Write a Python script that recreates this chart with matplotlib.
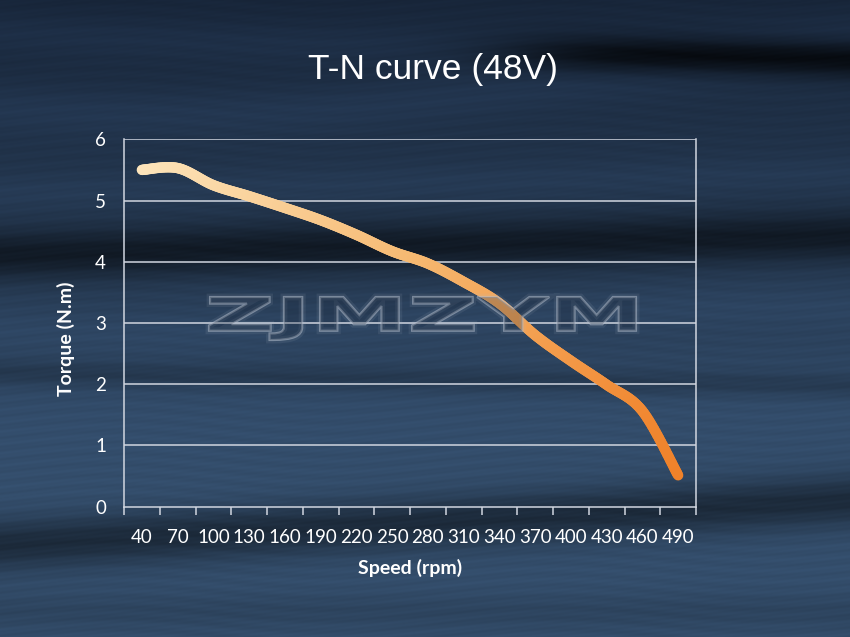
"""
T-N curve (48V) -- torque vs speed, smoothed line on a dark blue backdrop.
"""
import matplotlib
matplotlib.use("Agg")
import matplotlib.pyplot as plt
import numpy as np
from matplotlib.collections import LineCollection
from matplotlib.font_manager import FontProperties
from matplotlib.patches import PathPatch
from matplotlib.textpath import TextPath
from matplotlib.transforms import Affine2D

# ── Data ──────────────────────────────────────────────────────────────────────
speed_labels = ["40", "70", "100", "130", "160", "190", "220", "250",
                "280", "310", "340", "370", "400", "430", "460", "490"]
torque = [5.50, 5.53, 5.25, 5.07, 4.88, 4.68, 4.44, 4.17,
          3.97, 3.67, 3.32, 2.80, 2.38, 1.99, 1.56, 0.51]
y_ticks = [0, 1, 2, 3, 4, 5, 6]

title = "T-N curve (48V)"
x_label = "Speed (rpm)"
y_label = "Torque (N.m)"
watermark = "ZJMZYM"

W, H = 850, 637


# ── Helpers ───────────────────────────────────────────────────────────────────

def backdrop(w, h):
    """Dark blue wavy fabric-like background as an RGB array."""
    yy, xx = np.mgrid[0:h, 0:w]
    t = yy / h
    s = xx / w
    top = np.array([24, 38, 58]) / 255
    bot = np.array([52, 78, 108]) / 255
    base = top + (bot - top) * np.clip(t * 1.3, 0, 1)[..., None]
    shade = np.zeros((h, w))

    def band(center, width, amount):
        return amount * np.exp(-((t - center) / width) ** 2)

    # light streaks in the upper half
    shade += band(0.05 + 0.02 * np.sin(3 * s), 0.03, 0.14)
    shade += band(0.17 - 0.05 * s + 0.02 * np.sin(5 * s), 0.035, 0.16)
    shade += band(0.30 - 0.03 * s, 0.025, 0.10)
    shade += band(0.50 + 0.02 * np.sin(4 * s + 1), 0.03, 0.08)
    shade += band(0.66 - 0.02 * s, 0.07, 0.06)
    # dark folds
    right = 1 / (1 + np.exp(-(s - 0.62) / 0.05))
    shade += band(0.085 + 0.03 * (s - 0.75), 0.03, -0.9) * right
    shade += band(0.40 - 0.03 * s, 0.04, -0.55)
    shade += band(0.585 + 0.02 * s, 0.02, -0.2)
    shade += band(0.855 - 0.07 * s, 0.04, -0.45)
    shade += band(0.96, 0.03, -0.12)
    # faint fabric grain
    shade += 0.025 * np.sin(2 * np.pi * (yy / 11.0 + 0.6 * np.sin(xx / 70.0)))
    shade += 0.015 * np.sin(2 * np.pi * (yy / 4.3 + xx / 37.0))

    img = base * (1 + shade)[..., None]
    return np.clip(img, 0, 1)


def smooth_curve(x, y, n=24):
    """Catmull-Rom spline through the points (like a smoothed Excel line)."""
    p = np.column_stack([x, y]).astype(float)
    p = np.vstack([p[0], p, p[-1]])
    out = []
    for i in range(1, len(p) - 2):
        p0, p1, p2, p3 = p[i - 1], p[i], p[i + 1], p[i + 2]
        tt = np.linspace(0, 1, n, endpoint=False)[:, None]
        seg = 0.5 * ((2 * p1) + (-p0 + p2) * tt
                     + (2 * p0 - 5 * p1 + 4 * p2 - p3) * tt ** 2
                     + (-p0 + 3 * p1 - 3 * p2 + p3) * tt ** 3)
        out.append(seg)
    out.append(p[-2][None, :])
    return np.vstack(out)


# ── Figure ────────────────────────────────────────────────────────────────────
fig = plt.figure(figsize=(W / 100, H / 100), dpi=100)

bg = fig.add_axes([0, 0, 1, 1], zorder=0)
bg.imshow(backdrop(W, H), aspect="auto", interpolation="bilinear")
bg.set_axis_off()

ax = fig.add_axes([124 / W, 1 - 506.5 / H, 572 / W, 367.2 / H], zorder=2)
ax.patch.set_alpha(0)

xs = np.arange(len(speed_labels))
ax.set_xlim(-0.5, len(speed_labels) - 0.5)
ax.set_ylim(0, 6)

grid_col = (0.82, 0.84, 0.88)
for v in y_ticks[1:]:
    ax.axhline(v, color=grid_col, lw=1.1, zorder=1)
for side in ("left", "bottom", "right"):
    ax.spines[side].set_color(grid_col)
    ax.spines[side].set_linewidth(1.1)
ax.spines["top"].set_visible(False)

ax.set_xticks(xs)
ax.set_xticklabels(speed_labels)
ax.set_xticks(np.arange(-0.5, len(speed_labels)), minor=True)
ax.tick_params(axis="x", which="major", length=0, pad=16)
ax.tick_params(axis="x", which="minor", length=6, width=1.1,
               color=grid_col, direction="out")
ax.set_yticks(y_ticks)
ax.tick_params(axis="y", length=0, pad=13)
for lab in ax.get_xticklabels() + ax.get_yticklabels():
    lab.set_fontfamily("Lato")
    lab.set_fontsize(13.5)
    lab.set_color("white")

# gradient smoothed curve
pts = smooth_curve(xs, torque)
segs = np.stack([pts[:-1], pts[1:]], axis=1)
c_start = np.array([253, 229, 188]) / 255
c_mid = np.array([246, 186, 115]) / 255
c_end = np.array([240, 130, 42]) / 255
frac = (segs[:, 0, 0] - xs[0]) / (xs[-1] - xs[0])
cols = np.where(frac[:, None] < 0.5,
                c_start + (c_mid - c_start) * (frac[:, None] / 0.5),
                c_mid + (c_end - c_mid) * ((frac[:, None] - 0.5) / 0.5))
lc = LineCollection(segs, colors=cols, linewidths=7.5, capstyle="round",
                    joinstyle="round", zorder=4)
ax.add_collection(lc)

# watermark: hollow, stretched lettering
tp = TextPath((0, 0), watermark, size=1,
              prop=FontProperties(family="DejaVu Sans", weight="bold"))
ext = tp.get_extents()
x0, x1, y0, y1 = 209, 636, 297, 340   # target box in pixels (from top)
sx = (x1 - x0) / ext.width
sy = (y1 - y0) / ext.height
tr = (Affine2D().translate(-ext.x0, -ext.y0).scale(sx, sy)
      .translate(x0, H - y1).scale(1 / W, 1 / H)) + fig.transFigure
for lw, alpha in ((5, 0.10), (1.6, 0.55)):
    fig.patches.append(PathPatch(tp, transform=tr, facecolor="none",
                                 edgecolor=(0.70, 0.74, 0.80), lw=lw,
                                 alpha=alpha, zorder=3))
fig.patches.append(PathPatch(tp, transform=tr, facecolor=(0.1, 0.15, 0.22),
                             edgecolor="none", alpha=0.25, zorder=3))

# texts
fig.text(433 / W, 1 - 70 / H, title, ha="center", va="center",
         fontsize=25.5, color="white", family="Liberation Sans")
fig.text(410 / W, 1 - 568 / H, x_label, ha="center", va="center",
         fontsize=14, color="white", family="Lato", weight="bold")
fig.text(66 / W, 1 - 339 / H, y_label, ha="center", va="center",
         rotation=90, fontsize=14, color="white", family="Lato",
         weight="bold")

fig.savefig("out.png", dpi=100)
